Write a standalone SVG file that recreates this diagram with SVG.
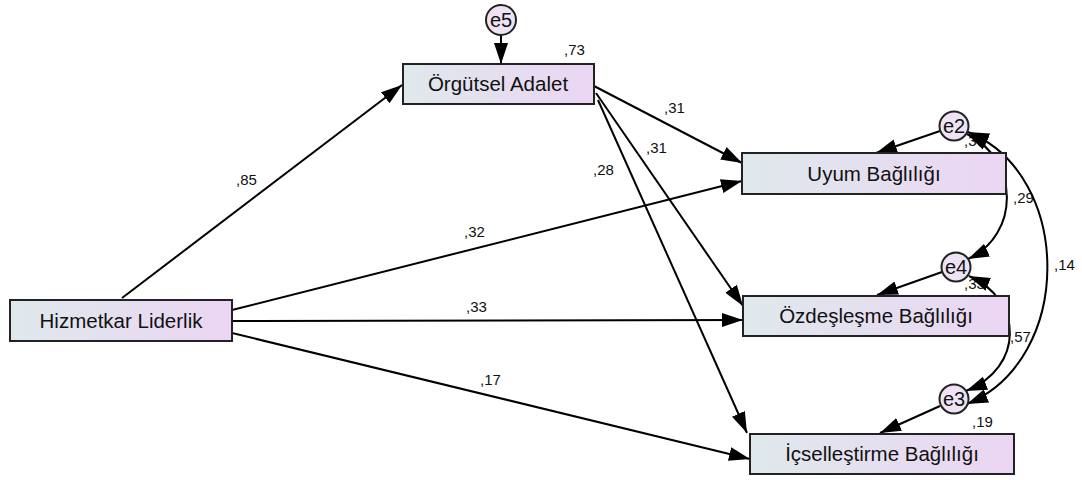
<svg xmlns="http://www.w3.org/2000/svg" width="1082" height="480" viewBox="0 0 1082 480">
<defs>
<linearGradient id="bg" x1="0" y1="0" x2="1" y2="0">
<stop offset="0" stop-color="#dfe9ec"/>
<stop offset="1" stop-color="#ebd5f3"/>
</linearGradient>
<marker id="ah" markerUnits="userSpaceOnUse" markerWidth="22" markerHeight="15" refX="21" refY="7.5" orient="auto-start-reverse" viewBox="0 0 22 15">
<path d="M0,0.5 L21,7.5 L0,14.5 z" fill="#000"/>
</marker>
<style>
.box{fill:url(#bg);stroke:#222;stroke-width:2}
.err{fill:#ede3f5;stroke:#222;stroke-width:2}
.nt{font-family:"Liberation Sans",Arial,sans-serif;font-size:20.5px;fill:#111;text-anchor:middle}
.et{font-family:"Liberation Sans",Arial,sans-serif;font-size:20px;fill:#111;text-anchor:middle}
.lb{font-family:"Liberation Sans",Arial,sans-serif;font-size:15px;fill:#111}
.ln{fill:none;stroke:#000;stroke-width:2;marker-end:url(#ah)}
.cv{fill:none;stroke:#000;stroke-width:2;marker-end:url(#ah);marker-start:url(#ah)}
</style>
</defs>
<g id="labels">
<text class="lb" x="564" y="55">,73</text>
<text class="lb" x="236" y="185">,85</text>
<text class="lb" x="464" y="237">,32</text>
<text class="lb" x="466" y="312">,33</text>
<text class="lb" x="480" y="385">,17</text>
<text class="lb" x="664" y="113">,31</text>
<text class="lb" x="646" y="153">,31</text>
<text class="lb" x="593" y="175">,28</text>
<text class="lb" x="964" y="146">,37</text>
<text class="lb" x="964" y="289">,33</text>
<text class="lb" x="1013" y="203">,29</text>
<text class="lb" x="1054" y="270">,14</text>
<text class="lb" x="1010" y="342">,57</text>
<text class="lb" x="972" y="427">,19</text>
</g>
<g id="connectors">
<path class="ln" d="M122,298 L402,85"/>
<path class="ln" d="M232,310 L742,181"/>
<path class="ln" d="M232,321 L743,320"/>
<path class="ln" d="M232,333 L750,459"/>
<path class="ln" d="M594,86 L742,163"/>
<path class="ln" d="M596,93 L743,306"/>
<path class="ln" d="M598,100 L747,433"/>
<path class="ln" d="M501,35 L501,64"/>
<path class="ln" d="M940,131 L876,153"/>
<path class="ln" d="M942,272 L877,295"/>
<path class="ln" d="M940,406 L880,433"/>
<path class="cv" d="M967,134 C1020,160 1020,235 968,259"/>
<path class="cv" d="M969,276 C1024,300 1024,368 966,391"/>
<path class="cv" d="M968,132 C1074,175 1074,360 967,404"/>
</g>
<g id="orgutsel">
<rect class="box" x="403" y="64" width="191" height="40"/>
<text class="nt" x="498" y="91">Örgütsel Adalet</text>
</g>
<g id="hizmetkar">
<rect class="box" x="10" y="300" width="222" height="41"/>
<text class="nt" x="121" y="328">Hizmetkar Liderlik</text>
</g>
<g id="uyum">
<rect class="box" x="742" y="153" width="264" height="41"/>
<text class="nt" x="874" y="181">Uyum Bağlılığı</text>
</g>
<g id="ozdeslesme">
<rect class="box" x="743" y="296" width="266" height="40"/>
<text class="nt" x="876" y="323">Özdeşleşme Bağlılığı</text>
</g>
<g id="icsellestirme">
<rect class="box" x="750" y="434" width="264" height="40"/>
<text class="nt" x="882" y="461">İçselleştirme Bağlılığı</text>
</g>
<g id="e5">
<circle class="err" cx="501" cy="20" r="15"/>
<text class="et" x="501" y="27">e5</text>
</g>
<g id="e2">
<circle class="err" cx="954" cy="126" r="14.5"/>
<text class="et" x="954" y="133">e2</text>
</g>
<g id="e4">
<circle class="err" cx="956" cy="267" r="14.5"/>
<text class="et" x="956" y="274">e4</text>
</g>
<g id="e3">
<circle class="err" cx="954" cy="399" r="14.5"/>
<text class="et" x="954" y="406">e3</text>
</g>
</svg>
